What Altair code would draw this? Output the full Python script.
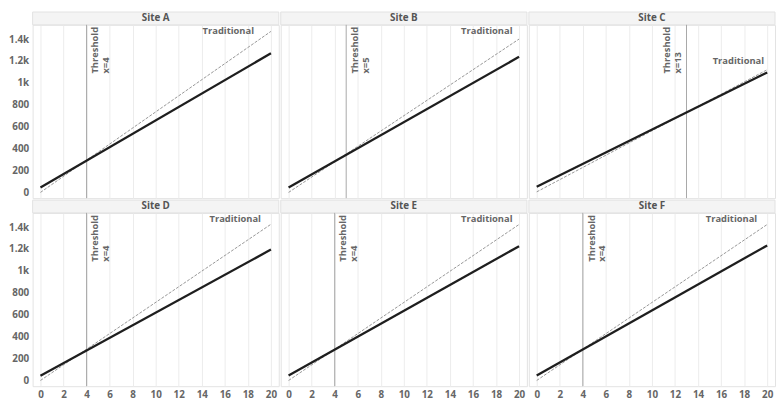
import altair as alt
import pandas as pd

# ---- data ----
sites = ["Site A", "Site B", "Site C", "Site D", "Site E", "Site F"]
thresholds = [4, 5, 13, 4, 4, 4]
threshold_label_side = ["right", "right", "left", "right", "right", "right"]
model_start = [45, 45, 52, 43, 45, 45]
model_end = [1270, 1238, 1095, 1195, 1226, 1233]
trad_start = [0, 0, 5, 0, 0, 0]
trad_end = [1470, 1400, 1120, 1426, 1424, 1424]
x_first, x_last = 0, 20
trad_label_x = [16.3, 17.2, 17.5, 16.9, 17.2, 16.9]
trad_label_y = [1470, 1470, 1200, 1470, 1470, 1470]
threshold_label_y = 1085
x_ticks = list(range(0, 21, 2))
y_ticks = [0, 200, 400, 600, 800, 1000, 1200, 1400]

rows = []
for i, s in enumerate(sites):
    rows.append(dict(site=s, kind="model", x=x_first, y=model_start[i]))
    rows.append(dict(site=s, kind="model", x=x_last, y=model_end[i]))
    rows.append(dict(site=s, kind="trad", x=x_first, y=trad_start[i]))
    rows.append(dict(site=s, kind="trad", x=x_last, y=trad_end[i]))
    rows.append(dict(site=s, kind="thr", x=thresholds[i], y=threshold_label_y,
                     label=f"Threshold\nx={thresholds[i]}"))
    rows.append(dict(site=s, kind="tlab", x=trad_label_x[i], y=trad_label_y[i],
                     label="Traditional"))
df = pd.DataFrame(rows)

W, H = 250, 176
FONT = "Open Sans"
GREY = "#666666"
LINE_H = 11

x_scale = alt.Scale(domain=[-0.68, 20.68], nice=False, zero=False)
y_scale = alt.Scale(domain=[-52, 1530], nice=False, zero=False)


def panel(i, s):
    col, row = i % 3, i // 3
    x_enc = alt.X("x:Q", scale=x_scale,
                  axis=alt.Axis(values=x_ticks, title=None, grid=True, gridColor="#ececec",
                                ticks=False, domain=False,
                                labelPadding=(3 if row == 1 else 0),
                                labelFlush=False, labelOverlap=False,
                                labels=(row == 1)))
    y_enc = alt.Y("y:Q", scale=y_scale,
                  axis=alt.Axis(values=y_ticks, title=None, grid=False,
                                ticks=False, domain=False,
                                labelPadding=(4 if col == 0 else 0),
                                labelFlush=False, labelOverlap=False,
                                labels=(col == 0),
                                labelExpr="datum.value >= 1000 ? format(datum.value / 1000, '~g') + 'k' : format(datum.value, 'd')"))

    base = alt.Chart(df).transform_filter(alt.datum.site == s)
    thr = base.transform_filter(alt.datum.kind == "thr")

    header_bg = thr.mark_rect(fill="#f4f4f4", stroke="#e2e2e2", strokeWidth=1).encode(
        x=alt.value(0), x2=alt.value(W), y=alt.value(-13), y2=alt.value(0))
    header_txt = thr.mark_text(font=FONT, fontWeight="bold", fontSize=10, color="#555555",
                               baseline="middle", align="center").encode(
        x=alt.value(W / 2), y=alt.value(-6.5), text="site:N")

    rule = thr.mark_rule(color="#a8a8a8", strokeWidth=1).encode(x=x_enc)
    trad = base.transform_filter(alt.datum.kind == "trad").mark_line(
        color="#8a8a8a", strokeWidth=0.9, strokeDash=[3, 1.5]).encode(x=x_enc, y=y_enc)
    model = base.transform_filter(alt.datum.kind == "model").mark_line(
        color="#1e1e1e", strokeWidth=2.3).encode(x=x_enc, y=y_enc)

    if threshold_label_side[i] == "right":
        side_kw = dict(baseline="top", dy=4)
    else:
        side_kw = dict(baseline="bottom", dy=-(4 + LINE_H))
    thr_txt = thr.mark_text(font=FONT, fontWeight="bold", fontSize=9.5, color=GREY,
                            angle=270, align="left", lineBreak="\n", lineHeight=LINE_H,
                            **side_kw).encode(x=x_enc, y=y_enc, text="label:N")
    trad_txt = base.transform_filter(alt.datum.kind == "tlab").mark_text(
        font=FONT, fontWeight="bold", fontSize=9.5, color=GREY,
        align="center", baseline="middle").encode(x=x_enc, y=y_enc, text="label:N")

    return alt.layer(header_bg, header_txt, rule, trad, model, thr_txt, trad_txt
                     ).properties(width=W, height=H)


panels = [panel(i, s) for i, s in enumerate(sites)]
top = alt.hconcat(*panels[:3], spacing=0)
bottom = alt.hconcat(*panels[3:], spacing=0)

chart = alt.vconcat(top, bottom, spacing=0).configure_view(
    stroke="#e3e3e3"
).configure_axis(
    labelFont=FONT, labelFontWeight="bold", labelColor=GREY, labelFontSize=10
).properties(padding=0)

chart.save("out.html", embed_options={"renderer": "svg", "actions": False})
